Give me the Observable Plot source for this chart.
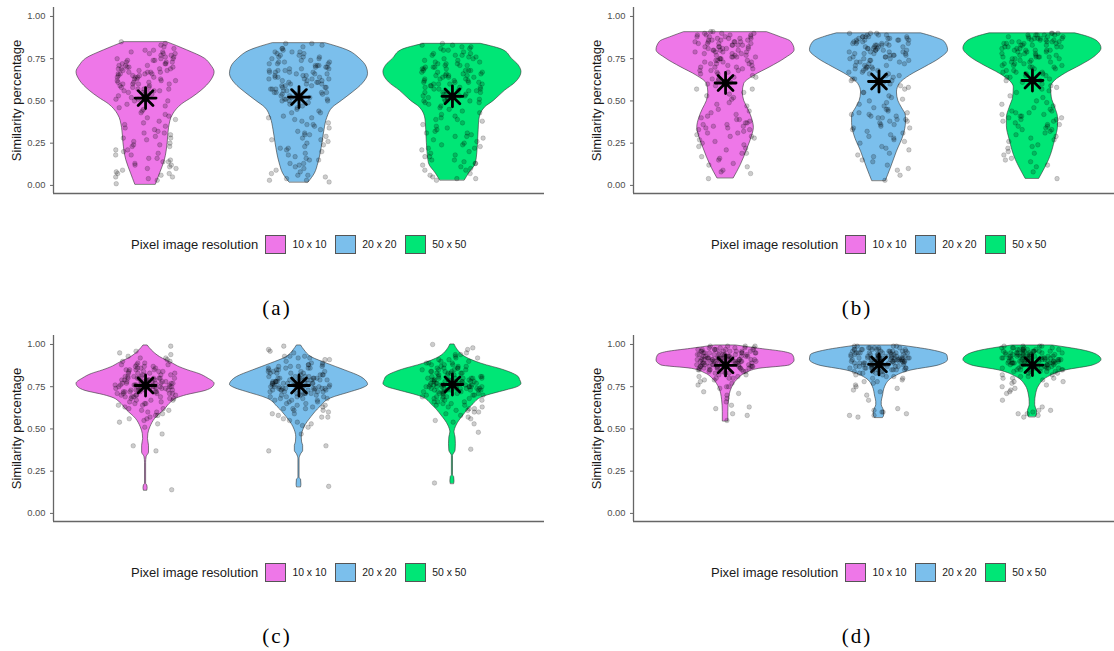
<!DOCTYPE html>
<html><head><meta charset="utf-8">
<script src="https://cdn.jsdelivr.net/npm/d3@7"></script>
<script src="https://cdn.jsdelivr.net/npm/@observablehq/plot@0.6"></script>
<style>
html,body{margin:0;padding:0;background:#fff;}
body{width:1114px;height:651px;overflow:hidden;position:relative;font-family:"Liberation Sans",Arial,sans-serif;}
.panel{position:absolute;width:580px;height:328px;}
.panel svg{position:absolute;left:0;top:0;}
.legend{position:absolute;left:131px;top:235px;height:19px;display:flex;align-items:center;white-space:nowrap;}
.ltitle{font-size:13px;color:#1a1a1a;margin-right:7px;}
.key{display:inline-block;width:20.5px;height:19px;box-sizing:border-box;border:1px solid #555;margin-right:6.7px;}
.lab{font-size:10.4px;color:#1a1a1a;margin-right:8.7px;}
.caption{position:absolute;left:177px;width:200px;top:297px;text-align:center;font-family:"Liberation Serif",serif;font-size:21px;line-height:22px;letter-spacing:2px;color:#000;}
</style>
</head><body>
<script>
const resolutions = ["10 x 10", "20 x 20", "50 x 50"];
const fillColors = ["#EE77E8", "#7BBFEC", "#00E676"];
const panelLabels = ["(a)", "(b)", "(c)", "(d)"];
const yTicks = [0, 0.25, 0.5, 0.75, 1];
const yTitle = "Similarity percentage";
const legendTitle = "Pixel image resolution";

// asterisk = mean per resolution
const meansA = [0.517, 0.523, 0.527];
const meansB = [0.606, 0.615, 0.621];
const meansC = [0.757, 0.757, 0.763];
const meansD = [0.876, 0.882, 0.878];

// violin outlines: [similarity, relative half-width]
const violinA10 = [[0.005,0.15],[0.07,0.21],[0.15,0.28],[0.25,0.32],[0.34,0.34],[0.42,0.40],[0.48,0.53],[0.52,0.68],[0.56,0.81],[0.62,0.95],[0.67,1.0],[0.71,0.95],[0.75,0.86],[0.80,0.60],[0.848,0.31]];
const violinA20 = [[0.018,0.14],[0.07,0.23],[0.13,0.28],[0.25,0.34],[0.33,0.37],[0.40,0.41],[0.46,0.49],[0.50,0.62],[0.55,0.78],[0.60,0.92],[0.66,1.0],[0.70,0.98],[0.75,0.88],[0.80,0.70],[0.842,0.38]];
const violinA50 = [[0.03,0.18],[0.07,0.24],[0.13,0.34],[0.25,0.37],[0.33,0.38],[0.39,0.39],[0.46,0.47],[0.50,0.60],[0.56,0.76],[0.61,0.92],[0.67,1.0],[0.71,0.96],[0.75,0.86],[0.80,0.74],[0.838,0.41]];
const violinB10 = [[0.043,0.12],[0.12,0.22],[0.22,0.32],[0.30,0.39],[0.34,0.41],[0.40,0.38],[0.45,0.33],[0.50,0.27],[0.55,0.25],[0.60,0.27],[0.65,0.42],[0.70,0.65],[0.75,0.86],[0.80,1.0],[0.85,0.95],[0.88,0.78],[0.907,0.60]];
const violinB20 = [[0.027,0.10],[0.10,0.17],[0.20,0.26],[0.30,0.36],[0.37,0.39],[0.41,0.39],[0.46,0.33],[0.50,0.28],[0.55,0.26],[0.60,0.30],[0.65,0.45],[0.70,0.67],[0.75,0.88],[0.80,1.0],[0.85,0.95],[0.88,0.78],[0.90,0.61]];
const violinB50 = [[0.04,0.10],[0.10,0.18],[0.15,0.24],[0.27,0.33],[0.35,0.37],[0.40,0.37],[0.46,0.33],[0.52,0.28],[0.58,0.27],[0.62,0.33],[0.66,0.47],[0.71,0.70],[0.76,0.90],[0.81,1.0],[0.85,0.95],[0.88,0.80],[0.90,0.62]];
const violinC10 = [[0.136,0.025],[0.15,0.03],[0.165,0.025],[0.175,0.008],[0.30,0.008],[0.333,0.015],[0.36,0.05],[0.40,0.05],[0.44,0.035],[0.47,0.04],[0.51,0.07],[0.56,0.14],[0.61,0.27],[0.66,0.38],[0.68,0.45],[0.70,0.60],[0.725,0.87],[0.745,0.97],[0.767,1.0],[0.80,0.90],[0.825,0.78],[0.846,0.62],[0.87,0.47],[0.886,0.40],[0.925,0.21],[0.965,0.09],[0.994,0.03]];
const violinC20 = [[0.156,0.03],[0.17,0.035],[0.20,0.03],[0.21,0.008],[0.32,0.008],[0.35,0.03],[0.37,0.06],[0.40,0.06],[0.42,0.045],[0.45,0.04],[0.51,0.08],[0.57,0.18],[0.63,0.31],[0.68,0.46],[0.72,0.77],[0.74,0.92],[0.761,1.0],[0.785,0.97],[0.807,0.90],[0.846,0.67],[0.886,0.41],[0.925,0.18],[0.965,0.08],[0.994,0.03]];
const violinC50 = [[0.175,0.025],[0.19,0.03],[0.215,0.025],[0.225,0.008],[0.34,0.008],[0.37,0.045],[0.41,0.05],[0.45,0.045],[0.48,0.03],[0.52,0.06],[0.58,0.16],[0.64,0.29],[0.69,0.45],[0.728,0.78],[0.745,0.93],[0.767,1.0],[0.79,0.98],[0.807,0.96],[0.846,0.76],[0.886,0.42],[0.925,0.19],[0.965,0.08],[1.0,0.03]];
const violinD10 = [[0.546,0.04],[0.60,0.04],[0.67,0.05],[0.74,0.09],[0.79,0.17],[0.83,0.30],[0.856,0.49],[0.876,0.93],[0.905,1.0],[0.935,0.98],[0.955,0.85],[0.974,0.50],[0.994,0.15]];
const violinD20 = [[0.566,0.06],[0.58,0.075],[0.60,0.075],[0.62,0.06],[0.64,0.04],[0.66,0.04],[0.69,0.055],[0.75,0.09],[0.807,0.22],[0.846,0.47],[0.876,0.87],[0.909,1.0],[0.935,0.99],[0.965,0.77],[0.98,0.55],[0.994,0.30]];
const violinD50 = [[0.57,0.05],[0.585,0.065],[0.605,0.065],[0.625,0.05],[0.64,0.04],[0.66,0.04],[0.698,0.05],[0.757,0.10],[0.807,0.23],[0.846,0.48],[0.876,0.88],[0.909,1.0],[0.935,0.95],[0.965,0.73],[0.98,0.52],[0.994,0.29]];

// observed similarity values (jittered dots)
const pointsA10 = [0.84,0.85,0.82,0.80,0.79,0.78,0.78,0.77,0.76,0.75,0.75,0.74,0.74,0.73,0.72,0.72,0.71,0.71,0.70,0.70,0.69,0.69,0.68,0.68,0.67,0.67,0.67,0.66,0.66,0.65,0.65,0.64,0.64,0.63,0.63,0.62,0.62,0.61,0.61,0.60,0.60,0.59,0.58,0.58,0.57,0.56,0.56,0.55,0.55,0.54,0.53,0.52,0.51,0.50,0.81,0.48,0.46,0.44,0.43,0.41,0.40,0.38,0.36,0.35,0.33,0.32,0.30,0.29,0.28,0.27,0.25,0.24,0.23,0.21,0.20,0.19,0.18,0.16,0.15,0.14,0.13,0.12,0.11,0.10,0.08,0.07,0.06,0.05,0.03,0.01,
  0.83,0.80,0.79,0.77,0.76,0.74,0.73,0.72,0.71,0.70,0.69,0.68,0.67,0.66,0.66,0.65,0.64,0.63,0.62,0.61,0.60,0.59,0.58,0.57,0.56,0.55,0.54,0.53,0.52,0.51,0.78,0.75,0.73,0.69,0.64,0.60,0.57,0.50,0.47,0.45,0.42,0.39,0.37,0.34,0.31,0.28,0.26,0.23,0.21,0.18,0.16,0.14,0.12,0.10,0.09,0.07,0.05,0.04,0.31,0.24];
const pointsA20 = [0.84,0.83,0.82,0.81,0.80,0.79,0.78,0.77,0.76,0.76,0.75,0.74,0.74,0.73,0.72,0.72,0.71,0.70,0.70,0.69,0.69,0.68,0.68,0.67,0.67,0.66,0.66,0.65,0.65,0.64,0.64,0.63,0.63,0.62,0.61,0.61,0.60,0.60,0.59,0.59,0.58,0.57,0.57,0.56,0.55,0.55,0.54,0.54,0.53,0.52,0.51,0.51,0.50,0.50,0.73,0.62,0.49,0.47,0.46,0.44,0.43,0.41,0.40,0.39,0.37,0.36,0.34,0.33,0.31,0.30,0.29,0.27,0.26,0.24,0.23,0.22,0.21,0.19,0.18,0.16,0.15,0.13,0.12,0.10,0.09,0.07,0.06,0.04,0.03,0.02,
  0.84,0.81,0.79,0.78,0.77,0.75,0.73,0.72,0.71,0.70,0.69,0.68,0.67,0.66,0.65,0.64,0.63,0.62,0.61,0.60,0.59,0.58,0.57,0.56,0.55,0.54,0.53,0.52,0.51,0.50,0.79,0.76,0.71,0.67,0.63,0.58,0.55,0.52,0.48,0.45,0.43,0.40,0.38,0.35,0.32,0.30,0.28,0.25,0.22,0.20,0.17,0.15,0.13,0.11,0.08,0.06,0.05,0.03,0.27,0.36];
const pointsA50 = [0.84,0.83,0.82,0.81,0.80,0.79,0.78,0.77,0.77,0.76,0.75,0.74,0.74,0.73,0.72,0.71,0.71,0.70,0.70,0.69,0.69,0.68,0.68,0.67,0.67,0.66,0.66,0.65,0.65,0.64,0.63,0.63,0.62,0.62,0.61,0.61,0.60,0.60,0.59,0.58,0.58,0.57,0.56,0.56,0.55,0.55,0.54,0.53,0.53,0.52,0.51,0.51,0.50,0.50,0.60,0.71,0.49,0.48,0.46,0.45,0.43,0.42,0.40,0.39,0.38,0.36,0.35,0.33,0.32,0.31,0.29,0.28,0.26,0.25,0.24,0.22,0.21,0.20,0.18,0.17,0.15,0.14,0.13,0.12,0.10,0.09,0.07,0.05,0.04,0.03,
  0.83,0.82,0.80,0.78,0.76,0.75,0.73,0.72,0.70,0.69,0.68,0.67,0.66,0.65,0.64,0.64,0.63,0.62,0.61,0.60,0.59,0.58,0.57,0.56,0.55,0.54,0.53,0.52,0.51,0.50,0.81,0.77,0.72,0.68,0.65,0.61,0.57,0.54,0.49,0.47,0.44,0.41,0.39,0.37,0.34,0.31,0.29,0.27,0.24,0.22,0.19,0.17,0.15,0.13,0.11,0.09,0.06,0.04,0.30,0.23];
const pointsB10 = [0.91,0.90,0.90,0.89,0.89,0.88,0.88,0.87,0.87,0.86,0.86,0.85,0.85,0.85,0.84,0.84,0.83,0.83,0.82,0.82,0.81,0.81,0.80,0.80,0.80,0.79,0.79,0.78,0.78,0.77,0.77,0.76,0.76,0.75,0.75,0.74,0.74,0.73,0.73,0.72,0.72,0.71,0.70,0.70,0.69,0.68,0.68,0.67,0.66,0.65,0.64,0.63,0.62,0.83,0.87,0.61,0.59,0.57,0.55,0.53,0.51,0.49,0.47,0.45,0.43,0.41,0.40,0.39,0.38,0.37,0.36,0.35,0.34,0.33,0.32,0.31,0.30,0.29,0.27,0.25,0.23,0.21,0.19,0.17,0.15,0.13,0.11,0.09,0.07,0.04,
  0.91,0.90,0.89,0.88,0.88,0.87,0.86,0.86,0.85,0.84,0.84,0.83,0.82,0.82,0.81,0.80,0.79,0.79,0.78,0.77,0.76,0.76,0.75,0.74,0.73,0.72,0.71,0.70,0.69,0.68,0.67,0.66,0.64,0.63,0.89,0.85,0.81,0.60,0.57,0.54,0.52,0.48,0.44,0.42,0.39,0.37,0.36,0.34,0.33,0.31,0.29,0.28,0.26,0.24,0.22,0.19,0.16,0.12,0.08,0.35];
const pointsB20 = [0.90,0.90,0.89,0.89,0.88,0.88,0.87,0.87,0.86,0.86,0.85,0.85,0.84,0.84,0.84,0.83,0.83,0.82,0.82,0.81,0.81,0.80,0.80,0.79,0.79,0.78,0.78,0.78,0.77,0.77,0.76,0.76,0.75,0.74,0.74,0.73,0.73,0.72,0.71,0.71,0.70,0.69,0.69,0.68,0.67,0.66,0.65,0.64,0.63,0.62,0.86,0.88,0.81,0.75,0.70,0.61,0.59,0.57,0.55,0.53,0.51,0.49,0.48,0.46,0.45,0.44,0.43,0.42,0.41,0.40,0.39,0.38,0.37,0.36,0.35,0.34,0.33,0.31,0.29,0.27,0.25,0.23,0.21,0.19,0.17,0.15,0.12,0.09,0.06,0.03,
  0.90,0.89,0.88,0.88,0.87,0.86,0.86,0.85,0.84,0.84,0.83,0.82,0.82,0.81,0.80,0.80,0.79,0.78,0.77,0.77,0.76,0.75,0.74,0.73,0.72,0.71,0.70,0.69,0.68,0.67,0.66,0.65,0.63,0.62,0.87,0.83,0.79,0.60,0.58,0.55,0.52,0.50,0.47,0.45,0.43,0.42,0.40,0.39,0.38,0.36,0.34,0.32,0.30,0.28,0.26,0.22,0.18,0.14,0.10,0.41];
const pointsB50 = [0.90,0.90,0.89,0.89,0.89,0.88,0.88,0.87,0.87,0.86,0.86,0.85,0.85,0.85,0.84,0.84,0.83,0.83,0.82,0.82,0.81,0.81,0.80,0.80,0.79,0.79,0.78,0.78,0.77,0.77,0.76,0.76,0.75,0.75,0.74,0.73,0.73,0.72,0.72,0.71,0.70,0.70,0.69,0.68,0.67,0.67,0.66,0.65,0.64,0.63,0.62,0.87,0.84,0.80,0.76,0.71,0.61,0.59,0.57,0.55,0.52,0.50,0.48,0.46,0.45,0.44,0.43,0.42,0.41,0.40,0.39,0.38,0.37,0.36,0.35,0.34,0.33,0.32,0.30,0.28,0.26,0.24,0.22,0.20,0.18,0.16,0.14,0.11,0.08,0.04,
  0.90,0.89,0.89,0.88,0.87,0.87,0.86,0.85,0.85,0.84,0.83,0.83,0.82,0.81,0.80,0.80,0.79,0.78,0.77,0.76,0.76,0.75,0.74,0.73,0.72,0.71,0.70,0.69,0.68,0.67,0.66,0.65,0.64,0.62,0.88,0.86,0.82,0.60,0.58,0.56,0.53,0.49,0.47,0.44,0.42,0.41,0.40,0.39,0.38,0.36,0.35,0.33,0.31,0.29,0.27,0.23,0.19,0.15,0.12,0.43];
const pointsC10 = [0.99,0.96,0.94,0.93,0.92,0.91,0.90,0.89,0.88,0.88,0.87,0.86,0.86,0.85,0.85,0.84,0.84,0.83,0.83,0.82,0.82,0.81,0.81,0.80,0.80,0.80,0.79,0.79,0.79,0.78,0.78,0.78,0.77,0.77,0.77,0.77,0.76,0.76,0.76,0.76,0.75,0.75,0.75,0.75,0.74,0.74,0.74,0.74,0.73,0.73,0.73,0.72,0.72,0.72,0.71,0.71,0.70,0.70,0.69,0.69,0.68,0.68,0.67,0.67,0.66,0.65,0.65,0.64,0.63,0.62,0.61,0.60,0.59,0.58,0.57,0.56,0.55,0.53,0.51,0.47,0.40,0.37,0.14,0.85,0.80,0.78,0.76,0.74,0.72,0.70,
  0.95,0.92,0.90,0.89,0.88,0.87,0.86,0.85,0.84,0.83,0.83,0.82,0.81,0.80,0.80,0.79,0.79,0.78,0.78,0.77,0.77,0.76,0.76,0.75,0.75,0.75,0.74,0.74,0.73,0.73,0.72,0.72,0.71,0.71,0.70,0.69,0.68,0.67,0.66,0.65,0.64,0.62,0.60,0.58,0.56,0.54,0.81,0.79,0.77,0.76,0.74,0.73,0.78,0.80,0.75,0.71,0.69,0.84,0.87,0.61];
const pointsC20 = [0.99,0.96,0.95,0.93,0.93,0.92,0.91,0.90,0.89,0.88,0.87,0.87,0.86,0.86,0.85,0.85,0.84,0.84,0.83,0.83,0.82,0.82,0.81,0.81,0.80,0.80,0.80,0.79,0.79,0.79,0.78,0.78,0.78,0.77,0.77,0.77,0.77,0.76,0.76,0.76,0.76,0.75,0.75,0.75,0.75,0.74,0.74,0.74,0.73,0.73,0.73,0.72,0.72,0.71,0.71,0.70,0.70,0.69,0.69,0.68,0.67,0.67,0.66,0.65,0.64,0.63,0.62,0.61,0.60,0.59,0.58,0.57,0.55,0.54,0.52,0.47,0.40,0.37,0.16,0.86,0.82,0.79,0.77,0.74,0.71,0.68,0.62,0.56,0.64,0.88,
  0.97,0.93,0.91,0.89,0.88,0.87,0.86,0.85,0.84,0.83,0.83,0.82,0.81,0.80,0.80,0.79,0.79,0.78,0.78,0.77,0.77,0.76,0.76,0.75,0.75,0.75,0.74,0.74,0.73,0.73,0.72,0.72,0.71,0.70,0.69,0.68,0.67,0.66,0.65,0.63,0.61,0.59,0.57,0.53,0.51,0.81,0.79,0.77,0.76,0.74,0.73,0.78,0.80,0.75,0.71,0.69,0.84,0.87,0.62,0.92];
const pointsC50 = [1.00,0.97,0.95,0.94,0.93,0.92,0.91,0.90,0.89,0.89,0.88,0.87,0.87,0.86,0.86,0.85,0.85,0.84,0.84,0.83,0.83,0.82,0.82,0.81,0.81,0.80,0.80,0.80,0.79,0.79,0.79,0.78,0.78,0.78,0.77,0.77,0.77,0.77,0.76,0.76,0.76,0.76,0.75,0.75,0.75,0.75,0.74,0.74,0.74,0.73,0.73,0.73,0.72,0.72,0.71,0.71,0.70,0.70,0.69,0.69,0.68,0.68,0.67,0.66,0.65,0.64,0.63,0.62,0.61,0.60,0.59,0.58,0.55,0.53,0.48,0.38,0.18,0.86,0.83,0.80,0.78,0.76,0.74,0.72,0.70,0.66,0.62,0.57,0.84,0.89,
  0.98,0.94,0.92,0.90,0.88,0.87,0.86,0.85,0.84,0.83,0.83,0.82,0.81,0.80,0.80,0.79,0.79,0.78,0.78,0.77,0.77,0.76,0.76,0.75,0.75,0.75,0.74,0.74,0.73,0.73,0.72,0.72,0.71,0.71,0.70,0.69,0.68,0.67,0.66,0.65,0.63,0.61,0.60,0.56,0.54,0.81,0.79,0.77,0.76,0.74,0.73,0.78,0.80,0.75,0.71,0.69,0.85,0.88,0.64,0.91];
const pointsD10 = [0.99,0.99,0.99,0.98,0.98,0.98,0.97,0.97,0.97,0.96,0.96,0.96,0.96,0.95,0.95,0.95,0.95,0.94,0.94,0.94,0.94,0.93,0.93,0.93,0.93,0.92,0.92,0.92,0.92,0.92,0.91,0.91,0.91,0.91,0.91,0.90,0.90,0.90,0.90,0.90,0.89,0.89,0.89,0.89,0.88,0.88,0.88,0.88,0.87,0.87,0.87,0.87,0.86,0.86,0.86,0.85,0.85,0.85,0.84,0.84,0.83,0.83,0.82,0.81,0.80,0.80,0.79,0.78,0.77,0.75,0.75,0.74,0.71,0.70,0.66,0.63,0.62,0.58,0.55,0.97,0.94,0.92,0.90,0.88,0.86,0.93,0.95,0.89,0.91,0.87,
  0.99,0.98,0.98,0.97,0.97,0.96,0.96,0.95,0.95,0.94,0.94,0.93,0.93,0.93,0.92,0.92,0.92,0.91,0.91,0.91,0.90,0.90,0.90,0.89,0.89,0.89,0.88,0.88,0.87,0.87,0.86,0.86,0.85,0.85,0.84,0.83,0.82,0.81,0.80,0.79,0.76,0.72,0.68,0.64,0.59,0.96,0.94,0.92,0.90,0.88,0.93,0.91,0.89,0.87,0.95,0.97,0.90,0.92,0.86,0.84];
const pointsD20 = [0.99,0.99,0.99,0.98,0.98,0.98,0.97,0.97,0.97,0.97,0.96,0.96,0.96,0.95,0.95,0.95,0.95,0.94,0.94,0.94,0.94,0.93,0.93,0.93,0.93,0.92,0.92,0.92,0.92,0.92,0.91,0.91,0.91,0.91,0.91,0.90,0.90,0.90,0.90,0.90,0.89,0.89,0.89,0.89,0.88,0.88,0.88,0.88,0.87,0.87,0.87,0.86,0.86,0.86,0.85,0.85,0.85,0.84,0.84,0.83,0.83,0.82,0.81,0.80,0.79,0.78,0.77,0.76,0.75,0.73,0.72,0.67,0.61,0.60,0.59,0.58,0.57,0.97,0.94,0.92,0.90,0.88,0.86,0.93,0.95,0.89,0.91,0.87,0.96,0.92,
  0.99,0.98,0.98,0.97,0.97,0.96,0.96,0.95,0.95,0.94,0.94,0.93,0.93,0.93,0.92,0.92,0.92,0.91,0.91,0.91,0.90,0.90,0.90,0.89,0.89,0.89,0.88,0.88,0.87,0.87,0.86,0.86,0.85,0.85,0.84,0.83,0.82,0.81,0.80,0.78,0.74,0.70,0.62,0.60,0.58,0.96,0.94,0.92,0.90,0.88,0.93,0.91,0.89,0.87,0.95,0.97,0.90,0.92,0.86,0.84];
const pointsD50 = [0.99,0.99,0.99,0.98,0.98,0.98,0.97,0.97,0.97,0.96,0.96,0.96,0.96,0.95,0.95,0.95,0.95,0.94,0.94,0.94,0.94,0.93,0.93,0.93,0.93,0.92,0.92,0.92,0.92,0.92,0.91,0.91,0.91,0.91,0.91,0.90,0.90,0.90,0.90,0.90,0.89,0.89,0.89,0.89,0.88,0.88,0.88,0.88,0.87,0.87,0.87,0.86,0.86,0.86,0.85,0.85,0.85,0.84,0.84,0.83,0.82,0.81,0.80,0.80,0.79,0.78,0.77,0.75,0.74,0.73,0.72,0.67,0.61,0.60,0.59,0.58,0.57,0.97,0.94,0.92,0.90,0.88,0.86,0.93,0.95,0.89,0.91,0.87,0.96,0.84,
  0.99,0.98,0.98,0.97,0.97,0.96,0.96,0.95,0.95,0.94,0.94,0.93,0.93,0.93,0.92,0.92,0.92,0.91,0.91,0.91,0.90,0.90,0.90,0.89,0.89,0.89,0.88,0.88,0.87,0.87,0.86,0.86,0.85,0.85,0.84,0.83,0.82,0.81,0.80,0.78,0.76,0.71,0.63,0.61,0.59,0.96,0.94,0.92,0.90,0.88,0.93,0.91,0.89,0.87,0.95,0.97,0.90,0.92,0.86,0.84];

const panels = [
  {means: meansA, violins: [violinA10, violinA20, violinA50], points: [pointsA10, pointsA20, pointsA50]},
  {means: meansB, violins: [violinB10, violinB20, violinB50], points: [pointsB10, pointsB20, pointsB50]},
  {means: meansC, violins: [violinC10, violinC20, violinC50], points: [pointsC10, pointsC20, pointsC50]},
  {means: meansD, violins: [violinD10, violinD20, violinD50], points: [pointsD10, pointsD20, pointsD50]}
];
const offsets = [[0,0],[580,0],[0,328],[580,328]];
const HALF = 0.45; // violin half-width in category units (ggplot width 0.9)

function jitter(k){ const s = Math.sin(k * 127.1 + 311.7) * 43758.5453; return ((s - Math.floor(s)) - 0.5) * 0.4; }

const asterisk = {
  draw(ctx, size) {
    const r = Math.sqrt(size / Math.PI), d = r * Math.SQRT1_2;
    ctx.moveTo(-r, 0); ctx.lineTo(r, 0);
    ctx.moveTo(0, -r); ctx.lineTo(0, r);
    ctx.moveTo(-d, -d); ctx.lineTo(d, d);
    ctx.moveTo(-d, d); ctx.lineTo(d, -d);
  }
};

panels.forEach((p, idx) => {
  const div = document.createElement("div");
  div.className = "panel";
  div.style.left = offsets[idx][0] + "px";
  div.style.top = offsets[idx][1] + "px";
  document.body.appendChild(div);

  const violinRows = p.violins.flatMap((v, g) => v.map(([y, w]) => ({g, y, w, res: resolutions[g]})));
  const pointRows = p.points.flatMap((vals, g) => vals.map((y, i) => ({g, y, j: jitter(idx * 1000 + g * 300 + i)})));
  const meanRows = p.means.map((m, g) => ({g, m}));
  const yDom = [-0.048, 1.053];
  const xDom = [0.4, 3.6];

  const svg = Plot.plot({
    width: 548, height: 200,
    marginLeft: 53, marginRight: 4, marginTop: 7, marginBottom: 7,
    x: {domain: xDom, axis: null},
    y: {domain: yDom, axis: null},
    color: {domain: resolutions, range: fillColors},
    style: {fontFamily: "'Liberation Sans', Arial, sans-serif", background: "transparent", overflow: "visible"},
    marks: [
      Plot.areaX(violinRows, {z: "g", y: "y", x1: d => d.g + 1 - d.w * HALF, x2: d => d.g + 1 + d.w * HALF, fill: "res", stroke: "#333", strokeWidth: 0.6, curve: "monotone-y"}),
      Plot.dot(pointRows, {x: d => d.g + 1 + d.j, y: "y", r: 2.3, fill: "black", fillOpacity: 0.2, stroke: "black", strokeOpacity: 0.22, strokeWidth: 0.7}),
      Plot.dot(meanRows, {x: d => d.g + 1, y: "m", r: 10.5, symbol: asterisk, fill: "none", stroke: "black", strokeWidth: 2.8, strokeLinecap: "round"}),
      Plot.axisY({ticks: yTicks, tickFormat: d3.format(".2f"), tickSize: 3, tickPadding: 5, fontSize: 9.4, fill: "#4d4d4d", stroke: "#666", label: null}),
      Plot.ruleX([xDom[0]], {stroke: "#666", strokeWidth: 1.3}),
      Plot.ruleY([yDom[0]], {stroke: "#666", strokeWidth: 1.3}),
      Plot.text([yTitle], {frameAnchor: "left", textAnchor: "middle", rotate: -90, dx: -37, fontSize: 13, fill: "#1a1a1a"})
    ]
  });
  div.appendChild(svg);

  const leg = document.createElement("div");
  leg.className = "legend";
  const t = document.createElement("span"); t.className = "ltitle"; t.textContent = legendTitle; leg.appendChild(t);
  resolutions.forEach((r, i) => {
    const k = document.createElement("span"); k.className = "key"; k.style.background = fillColors[i]; leg.appendChild(k);
    const l = document.createElement("span"); l.className = "lab"; l.textContent = r; leg.appendChild(l);
  });
  div.appendChild(leg);

  const cap = document.createElement("div");
  cap.className = "caption"; cap.textContent = panelLabels[idx];
  div.appendChild(cap);
});
</script>
</body></html>
